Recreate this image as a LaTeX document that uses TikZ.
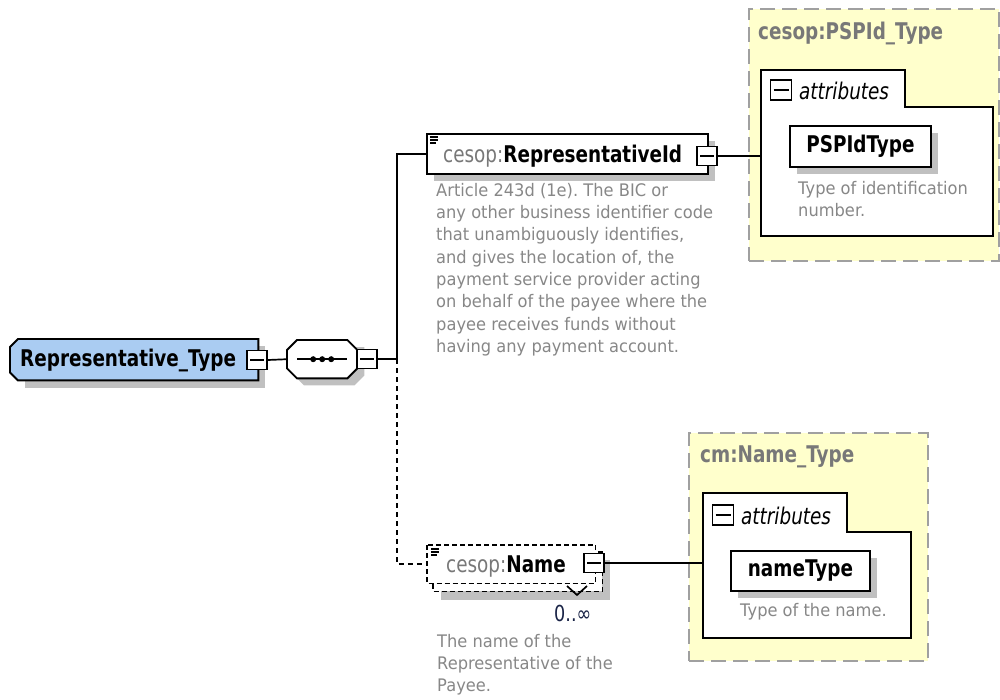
\documentclass[tikz,border=0pt]{standalone}
\usepackage{fontspec}
\setmainfont{DejaVu Sans}
\newfontfamily\titlef[FakeStretch=0.8]{DejaVu Sans}
\newfontfamily\descf[FakeStretch=0.94]{DejaVu Sans}
\frenchspacing
\definecolor{rtblue}{RGB}{170,204,242}
\definecolor{paleyellow}{RGB}{255,255,204}
\definecolor{dashgray}{RGB}{160,160,160}
\definecolor{shadowgray}{RGB}{192,192,192}
\definecolor{descgray}{RGB}{135,135,135}
\definecolor{nsgray}{RGB}{120,120,120}
\definecolor{occblue}{RGB}{25,35,70}
\begin{document}
\begin{tikzpicture}[x=1pt,y=-1pt,
  boxline/.style={draw=black, line width=1.9pt},
  shadowfill/.style={fill=shadowgray, draw=none},
  holder/.style={draw=none, inner sep=0pt, anchor=north west},
  minusbox/.style={draw=black, fill=white, line width=1.6pt, minimum width=20pt, minimum height=19pt, inner sep=0pt,
    path picture={\draw[line width=1.6pt] ([xshift=3pt]path picture bounding box.west) -- ([xshift=-3pt]path picture bounding box.east);}},
  conn/.style={line width=1.7pt},
  optconn/.style={line width=1.7pt, dash pattern=on 5pt off 4pt},
  typebox/.style={fill=paleyellow, draw=dashgray, line width=2.2pt, dash pattern=on 15pt off 7pt},
  title/.style={font=\titlef\bfseries\fontsize{23}{26}\selectfont, inner sep=0pt},
  typetitle/.style={font=\titlef\bfseries\fontsize{23}{26}\selectfont, text=nsgray, inner sep=0pt, anchor=west},
  attrlabel/.style={font=\titlef\itshape\fontsize{23}{26}\selectfont, inner sep=0pt, anchor=west},
  desc/.style={text=descgray, font=\descf\fontsize{17.3}{22.3}\selectfont, align=left, inner sep=0pt, anchor=north west},
  docicon/.style={line width=1.2pt}
]
\useasboundingbox (0,0) rectangle (1000,699);

% ---------------- Representative_Type ----------------
\fill[shadowfill] (25,346) rectangle (265,388);
\node[holder, minimum width=248pt, minimum height=41pt] (rt) at (10,339) {};
\draw[boxline, fill=rtblue] (rt.north east) -- ([xshift=8pt]rt.north west) -- ([yshift=-8pt]rt.north west)
  -- ([yshift=8pt]rt.south west) -- ([xshift=8pt]rt.south west) -- (rt.south east) -- cycle;
\node[title, anchor=west] (rtlabel) at (20,360) {Representative\_Type};
\node[minusbox] (rtm) at (257,360) {};

% ---------------- sequence ----------------
\node[holder, minimum width=70pt, minimum height=38pt] (seq) at (287,340) {};
\fill[shadowfill] ([shift={(7pt,-7pt)}]seq.north east) -- ([shift={(17pt,-7pt)}]seq.north west) -- ([shift={(7pt,-17pt)}]seq.north west)
  -- ([shift={(7pt,3pt)}]seq.south west) -- ([shift={(17pt,-7pt)}]seq.south west) -- ([shift={(-3pt,-7pt)}]seq.south east)
  -- ([shift={(7pt,3pt)}]seq.south east) -- ([shift={(7pt,-17pt)}]seq.north east) -- cycle;
\draw[boxline, fill=white] ([xshift=-10pt]seq.north east) -- ([xshift=10pt]seq.north west) -- ([yshift=-10pt]seq.north west)
  -- ([yshift=10pt]seq.south west) -- ([xshift=10pt]seq.south west) -- ([xshift=-10pt]seq.south east)
  -- ([yshift=10pt]seq.south east) -- ([yshift=-10pt]seq.north east) -- cycle;
\draw[line width=1.7pt] ([xshift=10pt]seq.west) -- ([xshift=-10pt]seq.east);
\foreach \dx in {-9,0,9} \fill ([xshift=\dx pt]seq.center) circle (3pt);
\node[minusbox] (seqm) at (367,359) {};
\draw[conn] (rtm.east) -- (seq.west);
\coordinate (split) at (397,359);

% ---------------- cesop:RepresentativeId ----------------
\fill[shadowfill] (434,141) rectangle (715,181);
\node[holder, boxline, fill=white, minimum width=281pt, minimum height=40pt] (repid) at (426,133) {};
\draw[docicon] (430,137) -- (438,137) (430,140) -- (438,140) (430,143) -- (436,143);
\node[title, anchor=west] (repidlabel) at (443,156) {\textcolor{nsgray}{\mdseries cesop:}RepresentativeId};
\node[minusbox] (repidm) at (707,156) {};
\node[desc] (repiddesc) at (436,183) {Article 243d (1e). The BIC or\\any other business identifier code\\that unambiguously identifies,\\and gives the location of, the\\payment service provider acting\\on behalf of the payee where the\\payee receives funds without\\having any payment account.};
\draw[conn] (seqm.east) -- (split) |- (repid.west);

% ---------------- cesop:PSPId_Type ----------------
\node[holder, typebox, minimum width=250pt, minimum height=252pt] (psptype) at (748,8) {};
\node[typetitle] (psptitle) at (758,33) {cesop:PSPId\_Type};
\node[holder, minimum width=232pt, minimum height=129pt] (pspattr) at (761,107) {};
\draw[boxline, fill=white] (pspattr.south west) -- (761,70) -- (905,70) -- (905,107) -- (pspattr.north east) -- (pspattr.south east) -- cycle;
\node[minusbox, minimum width=21pt, minimum height=20pt] (pspattrm) at (781,90) {};
\node[attrlabel] (pspattrlabel) at (799,91) {attributes};
\fill[shadowfill] (797,133) rectangle (938,174);
\node[holder, boxline, fill=white, minimum width=141pt, minimum height=41pt] (pspidtype) at (789,125) {};
\node[title] (pspidtypelabel) at (pspidtype.center) {PSPIdType};
\node[desc] (pspdesc) at (798,181) {Type of identification\\number.};
\draw[conn] (repidm.east) -- (repidm.east -| pspattr.west);

% ---------------- cesop:Name ----------------
\fill[shadowfill] (441,560) rectangle (610,600);
\node[holder, minimum width=169pt, minimum height=39pt] (nameback) at (433,552) {};
\draw[line width=1.7pt, dash pattern=on 5pt off 3pt, fill=white] (nameback.north west) rectangle (nameback.south east);
\node[holder, minimum width=168pt, minimum height=38pt] (name) at (427,545) {};
\draw[line width=1.7pt, dash pattern=on 5pt off 3pt, fill=white] (name.north west) rectangle (name.south east);
\draw[docicon] (431,549) -- (439,549) (431,552) -- (439,552) (431,555) -- (437,555);
\node[title, anchor=west] (namelabel) at (446,566) {\textcolor{nsgray}{\mdseries cesop:}Name};
\node[minusbox] (namem) at (594,563) {};
\draw[line width=1.7pt] (567,586) -- (577,595) -- (587,586);
\node[font=\titlef\fontsize{22}{24}\selectfont, text=occblue, inner sep=0pt, anchor=west] (nameocc) at (554,613) {0..∞};
\node[desc] (namedesc) at (437,634) {The name of the\\Representative of the\\Payee.};
\draw[optconn] (split) |- (name.west);

% ---------------- cm:Name_Type ----------------
\node[holder, typebox, minimum width=239pt, minimum height=228pt] (nametype) at (688,432) {};
\node[typetitle] (nttitle) at (700,457) {cm:Name\_Type};
\node[holder, minimum width=208pt, minimum height=106pt] (ntattr) at (703,532) {};
\draw[boxline, fill=white] (ntattr.south west) -- (703,493) -- (847,493) -- (847,532) -- (ntattr.north east) -- (ntattr.south east) -- cycle;
\node[minusbox, minimum width=21pt, minimum height=20pt] (ntattrm) at (723,515) {};
\node[attrlabel] (ntattrlabel) at (741,516) {attributes};
\fill[shadowfill] (738,558) rectangle (877,598);
\node[holder, boxline, fill=white, minimum width=139pt, minimum height=40pt] (nametypeattr) at (730,550) {};
\node[title] (nametypelabel) at (nametypeattr.center) {nameType};
\node[desc] (ntdesc) at (740,603) {Type of the name.};
\draw[conn] (namem.east) -- (namem.east -| ntattr.west);
\end{tikzpicture}
\end{document}
